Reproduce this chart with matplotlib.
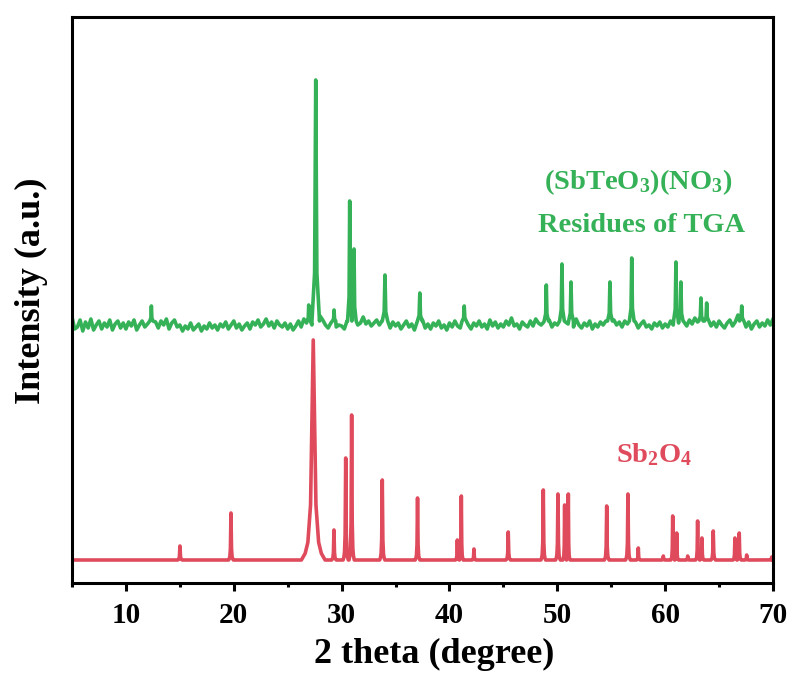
import matplotlib
matplotlib.use("Agg")
import matplotlib.pyplot as plt
from matplotlib.ticker import MultipleLocator
import numpy as np

plt.rcParams['font.family'] = ['Liberation Serif', 'DejaVu Serif']
plt.rcParams['font.weight'] = 'bold'
plt.rcParams['mathtext.fontset'] = 'custom'
plt.rcParams['mathtext.rm'] = 'Liberation Serif:bold'
plt.rcParams['mathtext.it'] = 'Liberation Serif:bold'
plt.rcParams['mathtext.bf'] = 'Liberation Serif:bold'

# Sb2O4 reference pattern (red): flat baseline plus peaks
red_base = 23
red_pos = [15.01, 19.74, 27.37, 29.29, 30.38, 30.93, 33.77, 37.04, 40.73, 41.10,
           42.27, 45.45, 48.70, 50.06, 50.68, 51.02, 54.58, 56.55, 57.51, 59.83,
           60.70, 61.07, 62.09, 63.01, 63.41, 64.46, 66.47, 66.87, 67.56, 69.88]
red_height = [37, 70, 243, 53, 125, 168, 103, 85, 43, 87,
              34, 51, 93, 89, 78, 89, 77, 89, 35, 27,
              67, 50, 27, 62, 45, 52, 45, 50, 28, 26]
red_width = [0.10, 0.10, 0.50, 0.10, 0.11, 0.11, 0.11, 0.10, 0.08, 0.08,
             0.08, 0.10, 0.10, 0.10, 0.075, 0.075, 0.10, 0.10, 0.08, 0.08,
             0.08, 0.08, 0.08, 0.085, 0.085, 0.10, 0.085, 0.085, 0.08, 0.08]

# TGA residue pattern (green): background read on a 0.25 deg grid from 5 to 70
green_start = 5.0
green_step = 0.25
green_bg = [
    266, 254, 256, 263, 252, 261, 255, 264, 253, 258, 262, 254, 260, 256, 263, 253, 259, 262, 255, 260,
    254, 261, 257, 263, 253, 258, 262, 256, 259, 258, 257, 261, 255, 262, 258, 264, 254, 260, 263, 256,
    258, 252, 257, 254, 260, 253, 256, 259, 252, 257, 254, 260, 255, 258, 253, 259, 256, 261, 254, 258,
    262, 255, 259, 253, 257, 260, 254, 261, 258, 263, 256, 259, 264, 257, 261, 255, 262, 258, 256, 260,
    254, 259, 253, 257, 262, 256, 264, 260, 266, 258, 257, 262, 267, 263, 258, 255, 260, 262, 256, 258,
    257, 254, 262, 258, 256, 264, 258, 260, 266, 259, 262, 257, 260, 263, 258, 262, 256, 259, 255, 261,
    257, 260, 254, 258, 262, 256, 259, 253, 261, 257, 263, 255, 259, 254, 260, 257, 262, 255, 258, 253,
    260, 256, 262, 257, 255, 261, 265, 258, 254, 260, 257, 262, 256, 259, 254, 263, 257, 261, 255, 259,
    256, 262, 258, 265, 257, 259, 254, 261, 258, 256, 262, 257, 264, 260, 258, 261, 259, 263, 256, 260,
    258, 262, 257, 261, 259, 262, 256, 264, 258, 255, 260, 257, 262, 254, 259, 256, 261, 258, 262, 257,
    260, 263, 258, 261, 256, 262, 259, 264, 257, 261, 255, 259, 262, 256, 258, 254, 260, 257, 261, 255,
    259, 256, 262, 258, 257, 260, 255, 261, 257, 263, 259, 265, 261, 267, 262, 258, 264, 257, 261, 256,
    262, 258, 255, 260, 263, 257, 261, 268, 262, 259, 256, 261, 254, 259, 262, 256, 260, 257, 263, 258,
    264,
]
green_pos = [12.36, 26.95, 27.60, 29.30, 30.75, 31.15, 34.02, 37.25, 41.37, 48.98,
             50.43, 51.27, 54.88, 56.90, 61.00, 61.46, 63.32, 63.85, 67.10]
green_height = [277, 278, 503, 273, 382, 334, 308, 290, 277, 298,
                319, 301, 301, 325, 321, 301, 285, 280, 277]
green_width = [0.15, 0.15, 0.35, 0.15, 0.20, 0.20, 0.25, 0.22, 0.20, 0.20,
               0.22, 0.22, 0.22, 0.22, 0.22, 0.20, 0.20, 0.20, 0.20]
green_foot = 262

red_color = '#DF4B5C'
green_color = '#35B157'

# peak outline: offset (in units of width) and fraction of peak height
shape_off = [2.2, 1.5, 1.0, 0.5, 0.0, 0.5, 1.0, 1.5, 2.2]
shape_sign = [-1, -1, -1, -1, 0, 1, 1, 1, 1]
shape_frac = [0.0, 0.03, 0.08, 0.25, 1.0, 0.25, 0.08, 0.03, 0.0]


def red_curve():
    xs, ys = [5.0], [red_base]
    for p, h, w in zip(red_pos, red_height, red_width):
        d = h - red_base
        for o, s, f in zip(shape_off, shape_sign, shape_frac):
            xs.append(p + s * o * w)
            ys.append(red_base + f * d)
    xs.append(70.0)
    ys.append(red_base)
    return xs, ys


def green_curve():
    gx = green_start + green_step * np.arange(len(green_bg))
    pts = []
    for x, y in zip(gx, green_bg):
        if all(abs(x - p) > w for p, w in zip(green_pos, green_width)):
            pts.append((x, y))
    for p, h, w in zip(green_pos, green_height, green_width):
        d = h - green_foot
        pts += [(p - w, green_foot), (p - 0.3 * w, green_foot + 0.2 * d), (p, h),
                (p + 0.3 * w, green_foot + 0.2 * d), (p + w, green_foot)]
    pts.sort()
    return [q[0] for q in pts], [q[1] for q in pts]


fig = plt.figure(figsize=(7.91, 6.78), dpi=100)
ax = fig.add_axes([72 / 791, 1 - 583 / 678, 701 / 791, 566 / 678])

rx, ry = red_curve()
gx, gy = green_curve()
ax.plot(rx, ry, color=red_color, lw=2.6, solid_joinstyle='round')
ax.plot(gx, gy, color=green_color, lw=2.6, solid_joinstyle='round')

ax.set_xlim(5, 70)
ax.set_ylim(0, 566)
ax.set_yticks([])
ax.xaxis.set_major_locator(MultipleLocator(10))
ax.xaxis.set_minor_locator(MultipleLocator(5))
ax.tick_params(axis='x', which='major', length=6, width=2.2, pad=8, labelsize=21)
ax.tick_params(axis='x', which='minor', length=3, width=2.2)
for s in ax.spines.values():
    s.set_linewidth(2.2)

ax.set_xlabel('2 theta (degree)', fontsize=26, fontweight='bold')
ax.xaxis.set_label_coords(0.517, -0.098)
ax.set_ylabel('Intensity (a.u.)', fontsize=26, fontweight='bold')
ax.yaxis.set_label_coords(-0.034, 0.516)

ax.text(57.5, 394, '(SbTeO$_3$)(NO$_3$)', color=green_color, fontsize=20.5,
        fontweight='bold', ha='center', va='baseline')
ax.text(57.8, 351, 'Residues of TGA', color=green_color, fontsize=20.5,
        fontweight='bold', ha='center', va='baseline')
ax.text(59.0, 121, 'Sb$_2$O$_4$', color=red_color, fontsize=20.5,
        fontweight='bold', ha='center', va='baseline')

plt.savefig('out.png', dpi=100)
